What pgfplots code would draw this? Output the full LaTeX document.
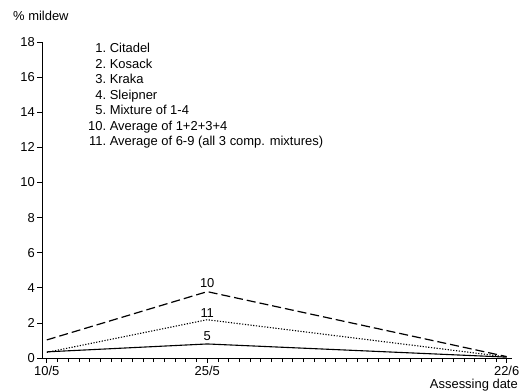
\documentclass[border=0pt]{standalone}
\usepackage{pgfplots}
\pgfplotsset{compat=1.18}
\usepackage{fontspec}
\setmainfont{Liberation Sans}

% Days counted from 10/5 (10/5 = 0, 25/5 = 15, 22/6 = 43)
\pgfplotstableread{
day  s5    s10   s11
0    0.35  1.03  0.32
15   0.80  3.78  2.18
43   0.05  0.08  0.06
}\mildew

\begin{document}
\begin{tikzpicture}[font=\fontsize{13}{15}\selectfont]
\begin{axis}[
  name=ax, at={(0,0)}, anchor=south west,
  scale only axis, width=470bp, height=316bp,
  xmin=-0.45, xmax=43.5, ymin=0, ymax=18,
  axis x line*=bottom, axis y line*=left,
  tick align=outside,
  xtick={0,15,43}, xticklabels={10/5,25/5,22/6},
  minor xtick={1,...,42},
  ytick={0,2,...,18},
  major tick length=4.5bp, minor tick length=4bp,
  tick style={black, line width=0.7bp},
  axis line style={black, line width=1bp},
  tick label style={font=\fontsize{13}{15}\selectfont},
  yticklabel style={inner sep=2.5bp},
  /pgf/number format/assume math mode=true,
  clip=false,
]
\addplot[black, line width=1.1bp] table[x=day, y=s5] {\mildew};
\addplot[black, line width=1.2bp, dash pattern=on 9bp off 4bp] table[x=day, y=s10] {\mildew};
\addplot[black, line width=1.1bp, dash pattern=on 1.2bp off 1.6bp] table[x=day, y=s11] {\mildew};
\node[anchor=south, inner sep=0, yshift=4bp] at (axis cs:15,3.78) {10};
\node[anchor=south, inner sep=0, yshift=2.5bp] at (axis cs:15,2.18) {11};
\node[anchor=south, inner sep=0, yshift=3bp] at (axis cs:15,0.80) {5};
\end{axis}
\node[anchor=base west, inner sep=0] at (-29bp,337bp) {\% mildew};
\node[anchor=base east, inner sep=0] at (476bp,-30bp) {Assessing date};
\node[anchor=base west, inner sep=0] at (46bp,305.5bp) {%
  \fontsize{13}{15.55bp}\selectfont
  \begin{tabular}[t]{@{}r@{\ }l@{}}
  1. & Citadel\\
  2. & Kosack\\
  3. & Kraka\\
  4. & Sleipner\\
  5. & Mixture of 1-4\\
  10. & Average of 1+2+3+4\\
  11. & Average of 6-9 (all 3 comp. mixtures)
  \end{tabular}};
\pgfresetboundingbox
\path[use as bounding box] (-42bp,-33bp) rectangle (485bp,358bp);
\end{tikzpicture}
\end{document}
